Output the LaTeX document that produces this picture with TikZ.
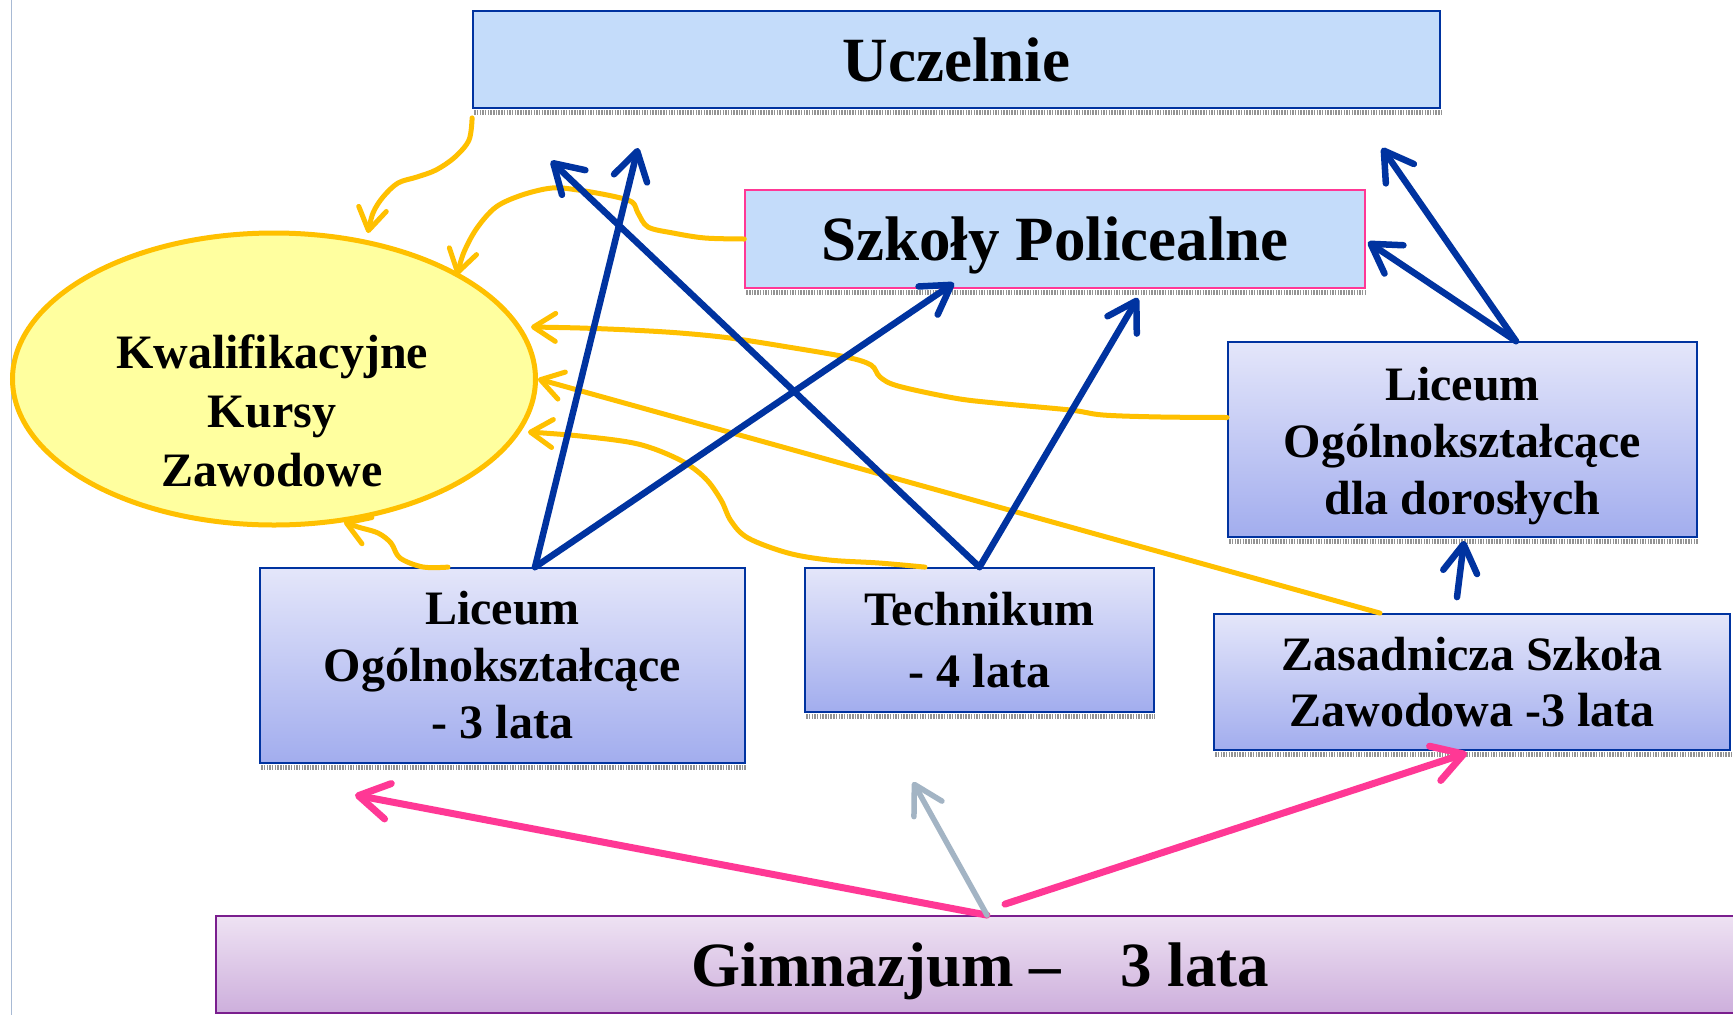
\documentclass[tikz,border=0pt]{standalone}
\usepackage{fontspec}
\setmainfont{Liberation Serif}
\usetikzlibrary{arrows.meta,shapes.geometric}
\definecolor{dblue}{HTML}{0033A0}
\definecolor{yel}{HTML}{FFC000}
\definecolor{lyel}{HTML}{FFFF9F}
\definecolor{lblue}{HTML}{C4DCFA}
\definecolor{gtop}{HTML}{E4E6FA}
\definecolor{gbot}{HTML}{A2ADEE}
\definecolor{ptop}{HTML}{EEE2F3}
\definecolor{pbot}{HTML}{CDAFDC}
\definecolor{purp}{HTML}{7A1E8E}
\definecolor{pinkc}{HTML}{FF3895}
\definecolor{grayarr}{HTML}{A3B4C4}
\definecolor{edgec}{HTML}{A8BAD4}
\begin{document}
\begin{tikzpicture}[x=1pt,y=-1pt,
 bigbox/.style={draw=dblue, line width=1.8pt, fill=lblue, inner sep=0pt, font=\bfseries\fontsize{63}{70}\selectfont, text height=43pt, text depth=0pt},
 midbox/.style={draw=dblue, line width=1.8pt, top color=gtop, bottom color=gbot, inner sep=0pt, align=center, font=\bfseries\fontsize{48}{57}\selectfont},
 shadowline/.style={draw=gray!85, line width=5pt, dash pattern=on 1.5pt off 1.2pt},
 bluearr/.style={draw=dblue, line width=6.5pt, line cap=round, -{Straight Barb[length=28pt,width=34pt,round]}},
 pinkarr/.style={draw=pinkc, line width=7pt, line cap=round, -{Straight Barb[length=30pt,width=36pt,round]}},
 grayarrow/.style={draw=grayarr, line width=5.5pt, line cap=round, -{Straight Barb[length=28pt,width=32pt,round]}},
 yelarr/.style={draw=yel, line width=5pt, line cap=round, line join=round, -{Straight Barb[length=22pt,width=28pt,round]}},
]
\useasboundingbox (0,0) rectangle (1733,1015);
\fill[white] (0,0) rectangle (1733,1015);
\draw[edgec, line width=1pt] (11,0) -- (11,1015);

% boxes
\node[bigbox, minimum width=967pt, minimum height=97pt] (ucz) at (956.5,59.5) {Uczelnie};
\node[bigbox, draw=pinkc, line width=1.4pt, minimum width=620pt, minimum height=98pt] (szk) at (1055,239) {Szkoły Policealne};
\node[ellipse, draw=yel, line width=5pt, fill=lyel, minimum width=523pt, minimum height=292pt, inner sep=0pt] (kkz) at (274,379) {};
\node[align=center, inner sep=0pt, font=\bfseries\fontsize{48}{59}\selectfont] (kkzt) at (272,411) {Kwalifikacyjne\\Kursy\\Zawodowe};
\node[midbox, minimum width=485pt, minimum height=195pt] (lo3) at (502.5,665.5) {Liceum\\Ogólnokształcące\\- 3 lata};
\node[midbox, font=\bfseries\fontsize{48}{62}\selectfont, minimum width=349pt, minimum height=144pt] (tech) at (979.5,640) {Technikum\\- 4 lata};
\node[midbox, minimum width=469pt, minimum height=195pt] (lod) at (1462.5,439.5) {\rule{0pt}{46pt}Liceum\\Ogólnokształcące\\dla dorosłych};
\node[midbox, font=\bfseries\fontsize{48}{56}\selectfont, minimum width=516pt, minimum height=136pt] (zsz) at (1472,682) {Zasadnicza Szkoła\\Zawodowa -3 lata};
\node[draw=purp, line width=1.8pt, top color=ptop, bottom color=pbot, minimum width=1529pt, minimum height=97pt, inner sep=0pt, font=\bfseries\fontsize{63}{70}\selectfont, text height=43pt, text depth=0pt] (gim) at (980.5,964.5) {Gimnazjum –\hspace{0.95em}3 lata};

% shadows
\foreach \n in {ucz,szk,lo3,tech,lod,zsz}{
  \draw[shadowline] ([xshift=2pt,yshift=-3.5pt]\n.south west) -- ([yshift=-3.5pt]\n.south east);
}

% tip coordinates
\coordinate (y1t) at (368,233);
\coordinate (y2t) at (457,275);
\coordinate (y3t) at (531,327);
\coordinate (y5t) at (528,432);
\coordinate (y6t) at (344,522);
\coordinate (b1t) at (638,148);
\coordinate (b2t) at (954,283);
\coordinate (b3t) at (551,161);
\coordinate (b4t) at (1138,298);
\coordinate (b5t) at (1382,148);
\coordinate (b6t) at (1368,242);
\coordinate (p1t) at (355,795);
\coordinate (g1t) at (913,782);

% yellow connectors
\draw[yelarr] plot[smooth, tension=0.55] coordinates {([yshift=-9pt]ucz.south west) (469,140) (455,157) (436,170) (417,177) (398,183) (383,197) (373,213) (y1t)};
\draw[yelarr] plot[smooth, tension=0.55] coordinates {(szk.west) (705,238) (673,233) (648,227) (638,213) (632,202) (612,196) (578,190) (552,188) (522,195) (496,207) (477,228) (464,252) (y2t)};
\draw[yelarr] plot[smooth, tension=0.55] coordinates {([yshift=22pt]lod.west) (1161,417) (1103,415) (1070,410) (995,403) (954,398) (898,386) (880,377) (871,365) (846,357) (788,347) (730,338) (680,333) (630,330) (580,328) (y3t)};
\draw[yelarr] ([xshift=-92pt]zsz.north) -- (kkz.east);
\draw[yelarr] plot[smooth, tension=0.55] coordinates {([xshift=-54.5pt]tech.north) (879,563) (829,560) (788,553) (748,538) (731,521) (721,500) (705,478) (680,460) (638,444) (580,436) (y5t)};
\draw[yelarr] plot[smooth, tension=0.55] coordinates {([xshift=-54.5pt]lo3.north) (423,567) (400,558) (391,543) (378,533) (358,527) (y6t)};

% blue connectors
\draw[bluearr] ([xshift=32.5pt]lo3.north) -- (b1t);
\draw[bluearr] ([xshift=32.5pt]lo3.north) -- (b2t);
\draw[bluearr] (tech.north) -- (b3t);
\draw[bluearr] (tech.north) -- (b4t);
\draw[bluearr] ([xshift=53.5pt]lod.north) -- (b5t);
\draw[bluearr] ([xshift=53.5pt]lod.north) -- (b6t);
\draw[bluearr] ([xshift=-15pt,yshift=16pt]zsz.north) -- ([xshift=1.5pt,yshift=-3pt]lod.south);

% pink / gray connectors
\draw[pinkarr] ([xshift=6.5pt]gim.north) -- (p1t);
\draw[pinkarr] ([xshift=24.5pt,yshift=11pt]gim.north) -- ([xshift=-5pt,yshift=-2pt]zsz.south);
\draw[grayarrow] ([xshift=6.5pt]gim.north) -- (g1t);
\end{tikzpicture}
\end{document}
